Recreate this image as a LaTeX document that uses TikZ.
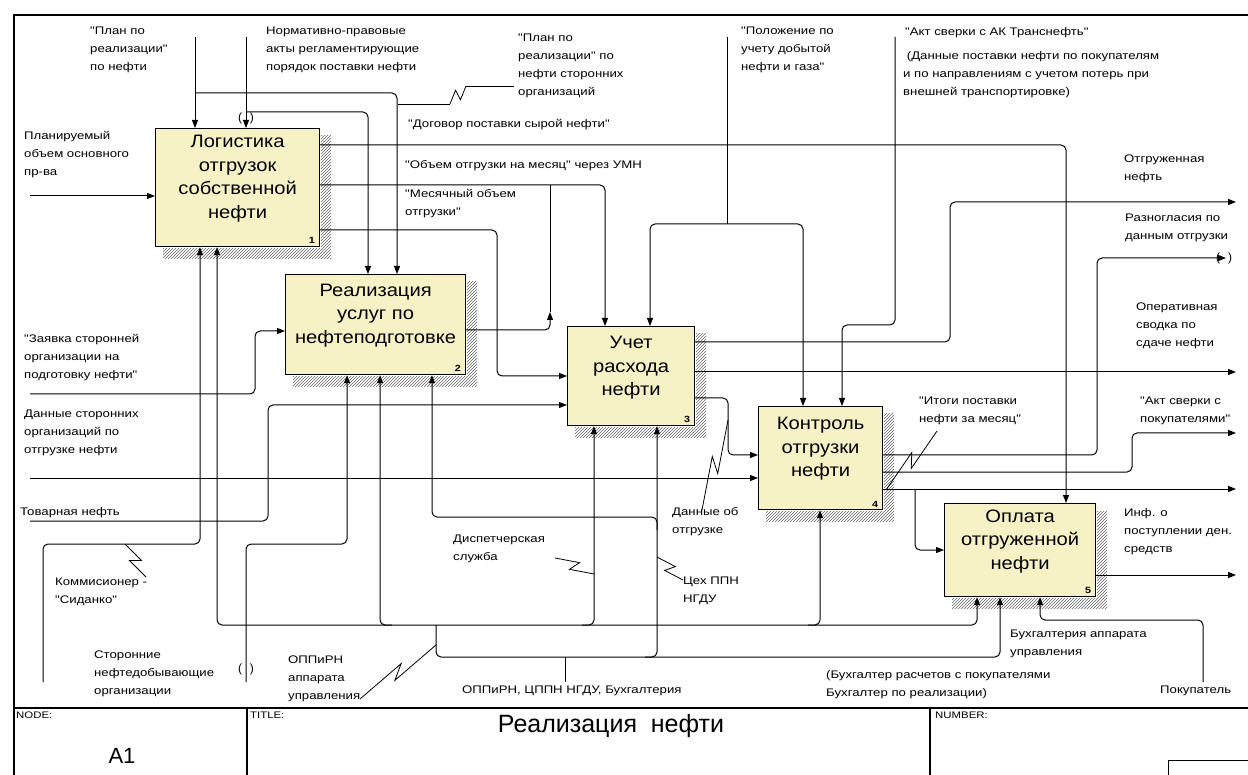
\documentclass[tikz,border=0pt]{standalone}
\usepackage{fontspec}
\setmainfont{Liberation Sans}
\newfontfamily\lblfont[FakeStretch=1.2]{Liberation Sans}
\newfontfamily\boxfont[FakeStretch=1.12]{Liberation Sans}
\usepackage{tikz}
\usetikzlibrary{arrows.meta}
\usetikzlibrary{calc}
\usetikzlibrary{patterns}
\definecolor{boxfill}{RGB}{247,242,198}
\tikzstyle{func}=[shape=rectangle,draw,line width=1.2pt,fill=boxfill,inner sep=0pt,anchor=north west]
\tikzstyle{ftext}=[font=\boxfont\fontsize{18}{23.5}\selectfont,align=center,inner sep=0pt]
\tikzstyle{fnum}=[font=\lblfont\bfseries\fontsize{9}{9}\selectfont,inner sep=0pt,anchor=south east]
\tikzstyle{hatch}=[pattern=north east lines,pattern color=black!60]
\tikzstyle{lbl}=[font=\lblfont\fontsize{11}{18}\selectfont,align=left,inner sep=0pt,anchor=north west]
\tikzstyle{ttl}=[font=\lblfont\fontsize{9.5}{10}\selectfont,inner sep=0pt,anchor=north west]
\tikzstyle{tun}=[font=\fontsize{12}{12}\selectfont,inner sep=0pt]
\tikzstyle{tran}=[draw,-{Triangle[length=8pt,width=6pt]},line width=1pt,rounded corners=5pt]
\tikzstyle{wire}=[draw,line width=1pt,rounded corners=5pt]
\tikzstyle{squig}=[draw,line width=0.8pt]
\newcommand{\zig}[2]{\draw[squig] (#1) -- ($(#1)!.58!(#2)!5pt!90:(#2)$) -- ($(#1)!.42!(#2)!5pt!-90:(#2)$) -- (#2);}
\newcommand{\boxshadow}[1]{\path[hatch] ($(#1.north east)+(1,8)$) rectangle ($(#1.south east)+(11,11)$);
	\path[hatch] ($(#1.south west)+(8,1)$) rectangle ($(#1.south east)+(1,11)$);}

\begin{document}
\begin{tikzpicture}[x=1pt,y=-1pt]
		\useasboundingbox (0,0) rectangle (1248,775);
		% frame and title block
		\draw[line width=1.4pt] (14,775) -- (14,15) -- (1250,15);
		\draw[line width=1.4pt] (14,708) -- (1250,708);
		\draw[line width=1.2pt] (247,708) -- (247,775) (930,708) -- (930,775);
		\draw (1168,775) -- (1168,760) -- (1250,760);
		\node[ttl] (tnode) at (16,712) {NODE:};
		\node[font=\fontsize{22}{22}\selectfont] (tnum) at (122,756) {A1};
		\node[ttl] (ttitle) at (250,712) {TITLE:};
		\node[font=\fontsize{25}{25}\selectfont] (tname) at (611,726) {Реализация\ \ нефти};
		\node[ttl] (tnumber) at (935,712) {NUMBER:};
%
		\node[func,minimum width=164pt,minimum height=118pt] (b1) at (155,128) {};
		\node[func,minimum width=180pt,minimum height=100pt] (b2) at (285,274) {};
		\node[func,minimum width=127pt,minimum height=99pt] (b3) at (567,326) {};
		\node[func,minimum width=124pt,minimum height=103pt] (b4) at (758,406) {};
		\node[func,minimum width=151pt,minimum height=93pt] (b5) at (944,503) {};
		\boxshadow{b1}\boxshadow{b2}\boxshadow{b3}\boxshadow{b4}\boxshadow{b5}
		\node[ftext] (b1t) at ([yshift=9pt]b1.center) {Логистика\\отгрузок\\собственной\\нефти};
		\node[ftext] (b2t) at ([yshift=9pt]b2.center) {Реализация\\услуг по\\нефтеподготовке};
		\node[ftext] (b3t) at ([yshift=8pt]b3.center) {Учет\\расхода\\нефти};
		\node[ftext] (b4t) at ([yshift=9pt]b4.center) {Контроль\\отгрузки\\нефти};
		\node[ftext] (b5t) at ([yshift=9pt]b5.center) {Оплата\\отгруженной\\нефти};
		\node[fnum] (b1n) at ([xshift=-5pt,yshift=3pt]b1.south east) {1};
		\node[fnum] (b2n) at ([xshift=-5pt,yshift=3pt]b2.south east) {2};
		\node[fnum] (b3n) at ([xshift=-5pt,yshift=3pt]b3.south east) {3};
		\node[fnum] (b4n) at ([xshift=-5pt,yshift=3pt]b4.south east) {4};
		\node[fnum] (b5n) at ([xshift=-5pt,yshift=3pt]b5.south east) {5};
%
		\node[lbl] (t1) at (24,131) {Планируемый\\объем основного\\пр-ва};
		\node[lbl] (t2) at (90,27) {"План по\\реализации"\\по нефти};
		\node[lbl] (t3) at (266,27) {Нормативно-правовые\\акты регламентирующие\\порядок поставки нефти};
		\node[lbl] (t4) at (518,34) {"План по\\реализации" по\\нефти сторонних\\организаций};
		\node[lbl] (t5) at (408,119) {"Договор поставки сырой нефти"};
		\node[lbl] (t6) at (405,160) {"Объем отгрузки на месяц" через УМН};
		\node[lbl] (t7) at (405,189) {"Месячный объем\\отгрузки"};
		\node[lbl] (t8) at (741,27) {"Положение по\\учету добытой\\нефти и газа"};
		\node[lbl] (t9) at (905,27) {"Акт сверки с АК Транснефть"};
		\node[lbl] (t10) at (903,51) {\ (Данные поставки нефти по покупателям\\и по направлениям с учетом потерь при\\внешней транспортировке)};
		\node[lbl] (t11) at (1124,155) {Отгруженная\\нефть};
		\node[lbl] (t12) at (1125,214) {Разногласия по\\данным отгрузки};
		\node[lbl] (t13) at (1136,303) {Оперативная\\сводка по\\сдаче нефти};
		\node[lbl] (t14) at (919,397) {"Итоги поставки\\нефти за месяц"};
		\node[lbl] (t15) at (1140,397) {"Акт сверки с\\покупателями"};
		\node[lbl] (t16) at (1124,508) {Инф. о\\поступлении ден.\\средств};
		\node[lbl] (t17) at (24,334) {"Заявка сторонней\\организации на\\подготовку нефти"};
		\node[lbl] (t18) at (24,410) {Данные сторонних\\организаций по\\отгрузке нефти};
		\node[lbl] (t19) at (20,507) {Товарная нефть};
		\node[lbl] (t20) at (55,578) {Коммисионер -\\"Сиданко"};
		\node[lbl] (t21) at (94,651) {Сторонние\\нефтедобывающие\\организации};
		\node[lbl] (t22) at (288,656) {ОППиРН\\аппарата\\управления};
		\node[lbl] (t23) at (453,535) {Диспетчерская\\служба};
		\node[lbl] (t24) at (683,577) {Цех ППН\\НГДУ};
		\node[lbl] (t25) at (672,507) {Данные об\\отгрузке};
		\node[lbl] (t26) at (462,686) {ОППиРН, ЦППН НГДУ, Бухгалтерия};
		\node[lbl] (t27) at (1010,630) {Бухгалтерия аппарата\\управления};
		\node[lbl] (t28) at (826,670) {(Бухгалтер расчетов с покупателями\\Бухгалтер по реализации)};
		\node[lbl] (t29) at (1160,686) {Покупатель};
%
		% inputs
		\coordinate (i1) at (30,196);
		\coordinate (i2) at (30,394);
		\coordinate (i3) at (30,478);
		\coordinate (i4) at (30,521);
		\draw[tran] (i1) -- (i1 -| b1.west);
		\draw[tran] (i2) -- (255,394) -- (255,331) -- (b2.west |- 0,331);
		\draw[tran] (i3) -- (i3 -| b4.west);
		\draw[tran] (i4) -- (268,521) -- (268,405) -- (b3.west |- 0,405);
		% controls
		\coordinate (c1) at (195,37);
		\coordinate (c2) at (246,37);
		\coordinate (c3) at (727,37);
		\coordinate (c4) at (895,37);
		\draw[tran] (c1) -- (c1 |- b1.north);
		\draw[tran] (195,93) -- (397,93) -- (397,0 |- b2.north);
		\draw[tran] (c2) -- (c2 |- b1.north);
		\node[tun] (tun1) at (246,118) {(\hspace{8pt})};
		\draw[tran] (246,112) -- (368,112) -- (368,0 |- b2.north);
		\draw[wire] (c3) -- (727,224);
		\draw[tran] (727,224) -- (650,224) -- (650,0 |- b3.north);
		\draw[tran] (727,224) -- (803,224) -- (803,0 |- b4.north);
		\draw[tran] (c4) -- (895,325) -- (842,325) -- (842,0 |- b4.north);
		% outputs
		\coordinate (o1) at (1236,202);
		\coordinate (o2) at (1226,258);
		\coordinate (o3) at (1236,372);
		\coordinate (o4) at (1236,433);
		\coordinate (o5) at (1236,489);
		\coordinate (o6) at (1236,575);
		\draw[tran] (b1.east |- 0,145) -- (1066,145) -- (1066,0 |- b5.north);
		\draw[tran] (b1.east |- 0,185) -- (605,185) -- (605,0 |- b3.north);
		\draw[wire] (550,185) -- (550,312);
		\draw[tran] (b1.east |- 0,230) -- (497,230) -- (497,376) -- (b3.west |- 0,376);
		\draw[tran] (b2.east |- 0,330) -- (550,330) -- (550,312);
		\draw[tran] (b3.east |- 0,342) -- (950,342) -- (950,202) -- (o1);
		\draw[tran] (b3.east |- 0,372) -- (o3);
		\draw[tran] (b3.east |- 0,398) -- (728,398) -- (728,455) -- (b4.west |- 0,455);
		\draw[tran] (b4.east |- 0,455) -- (1097,455) -- (1097,258) -- (o2);
		\node[tun] (tun2) at (1224,258) {(\hspace{8pt})};
		\draw[tran] (b4.east |- 0,472) -- (1132,472) -- (1132,433) -- (o4);
		\draw[tran] (b4.east |- 0,489) -- (o5);
		\draw[tran] (915,489) -- (915,550) -- (b5.west |- 0,550);
		\draw[tran] (b5.east |- 0,575) -- (o6);
		% mechanisms
		\coordinate (m1) at (43,682);
		\coordinate (m2) at (246,682);
		\coordinate (m3) at (565,682);
		\coordinate (m4) at (1203,682);
		\draw[tran] (m1) -- (43,544) -- (200,544) -- (200,0 |- b1.south);
		\draw[tran] (m2) -- (246,544) -- (347,544) -- (347,0 |- b2.south);
		\node[tun] (tun3) at (246,669) {(\hspace{8pt})};
		\draw[tran] (436,625) -- (217,625) -- (217,0 |- b1.south);
		\draw[tran] (436,625) -- (977,625) -- (977,0 |- b5.south);
		\draw[tran] (392,625) -- (380,625) -- (380,0 |- b2.south);
		\draw[tran] (582,625) -- (594,625) -- (594,0 |- b3.south);
		\draw[tran] (808,625) -- (820,625) -- (820,0 |- b4.south);
		\draw[tran] (436,625) -- (436,657) -- (1000,657) -- (1000,0 |- b5.south);
		\draw[tran] (645,657) -- (657,657) -- (657,0 |- b3.south);
		\draw[tran] (657,530) -- (657,517) -- (432,517) -- (432,0 |- b2.south);
		\draw[wire] (m3) -- (565,657);
		\draw[tran] (m4) -- (1203,620) -- (1040,620) -- (1040,0 |- b5.south);
		% squiggles
		\draw[squig] (398,104) -- (450,104);
		\zig{450,104}{466,86}
		\draw[squig] (466,86) -- (514,86);
		\zig{728,420}{702,510}
		\zig{886,490}{937,431}
		\zig{125,544}{146,577}
		\zig{555,558}{594,574}
		\zig{657,557}{683,580}
		\zig{436,645}{360,699}
\end{tikzpicture}
\end{document}
